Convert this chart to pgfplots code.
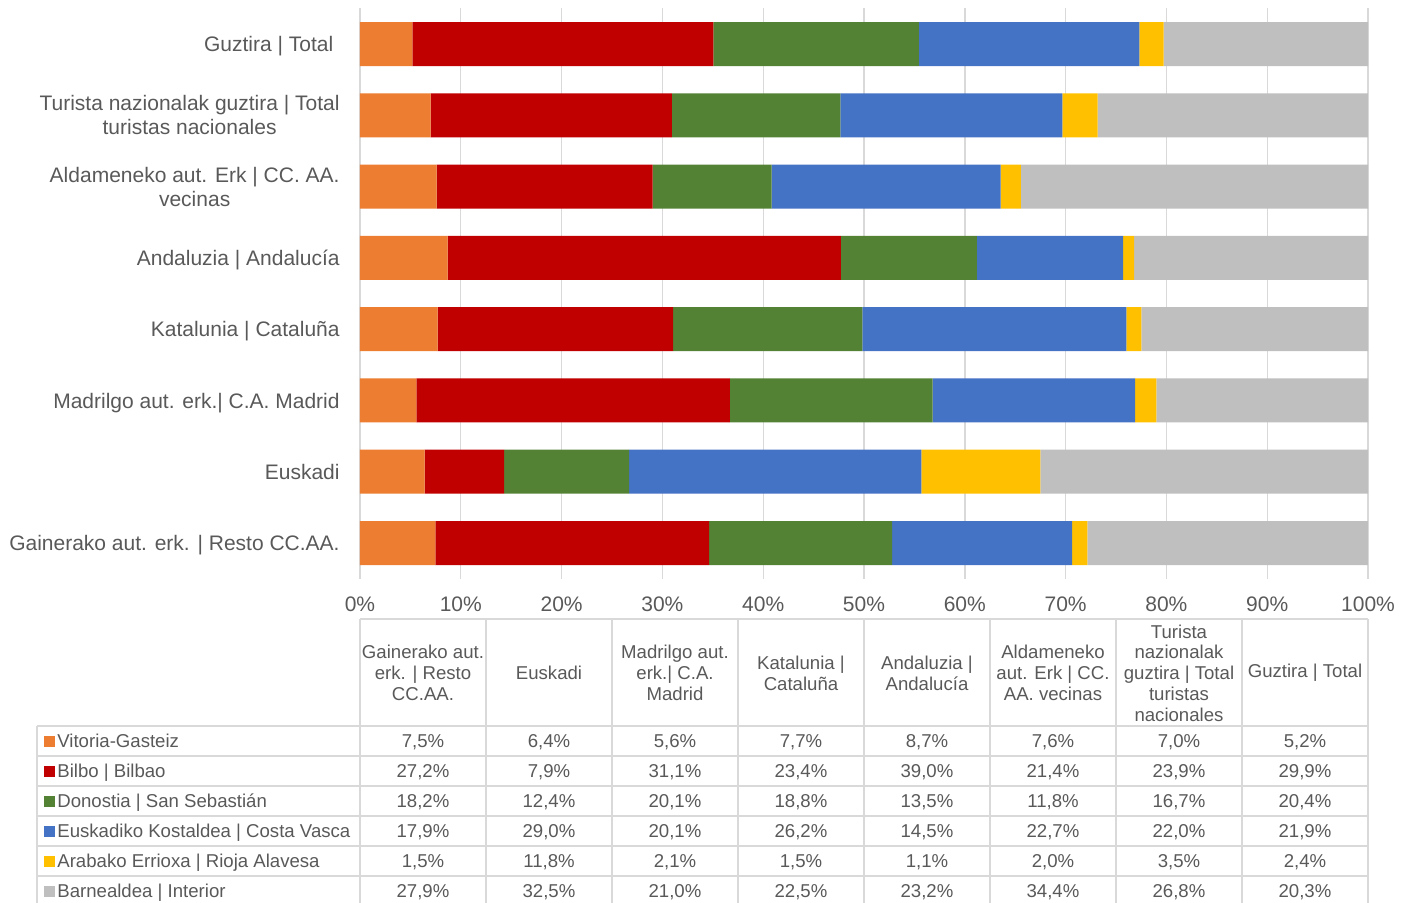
\documentclass[border=0pt]{standalone}
\usepackage{fontspec}
\setmainfont{Liberation Sans}
\usepackage{pgfplots}
\usepackage{pgfplotstable}
\pgfplotsset{compat=1.18}

\definecolor{cvit}{HTML}{ED7D31}
\definecolor{cbil}{HTML}{C00000}
\definecolor{cdon}{HTML}{548235}
\definecolor{ccos}{HTML}{4472C4}
\definecolor{crio}{HTML}{FFC000}
\definecolor{cint}{HTML}{BFBFBF}
\definecolor{txt}{HTML}{595959}
\definecolor{grd}{HTML}{D9D9D9}

\newcommand{\lblfont}{\fontsize{10.5}{12}\selectfont}
\newcommand{\tabfont}{\fontsize{9.3}{10.35}\selectfont}

% idx: 0 = Gainerako (bottom bar, first table column) ... 7 = Guztira
\pgfplotstableread{
idx vit  bil  don  cos  rio  int
0   7.5  27.2 18.2 17.9 1.5  27.9
1   6.4  7.9  12.4 29.0 11.8 32.5
2   5.6  31.1 20.1 20.1 2.1  21.0
3   7.7  23.4 18.8 26.2 1.5  22.5
4   8.7  39.0 13.5 14.5 1.1  23.2
5   7.6  21.4 11.8 22.7 2.0  34.4
6   7.0  23.9 16.7 22.0 3.5  26.8
7   5.2  29.9 20.4 21.9 2.4  20.3
}\data

% 100% stacked: each row is scaled to its own total
\newcommand{\tot}{(\thisrow{vit}+\thisrow{bil}+\thisrow{don}+\thisrow{cos}+\thisrow{rio}+\thisrow{int})}

\pgfplotsset{
  tabvals/.style={draw=none, mark=none, point meta=explicit,
    nodes near coords={\pgfmathprintnumber[fixed,fixed zerofill,precision=1,use comma,assume math mode=true]{\pgfplotspointmeta}\%},
    every node near coord/.append style={anchor=center, font=\tabfont, text=txt,
      inner sep=0pt, text height=6.66pt, text depth=0pt}},
  legsq/.style={only marks, mark=square*, mark size=2.5pt, color=#1},
}
\tikzset{
  hdr/.style={align=center, font=\tabfont, text=txt, inner sep=0pt},
  leg/.style={anchor=west, font=\tabfont, text=txt, inner sep=0pt, text height=6.66pt, text depth=0pt},
  tline/.style={draw=grd, line width=0.7pt},
}

\begin{document}
\begin{tikzpicture}
\useasboundingbox (0,0) rectangle (704.5pt,-451pt);

% stacked bars
\begin{axis}[
  at={(180pt,-289.32pt)}, anchor=south west,
  width=504pt, height=285.15pt, scale only axis,
  xbar stacked, bar width=22pt,
  xmin=0, xmax=100, ymin=-0.5, ymax=7.5,
  xtick={0,10,...,100},
  xticklabel={\pgfmathprintnumber[assume math mode=true]{\tick}\%},
  ytick={0,...,7},
  yticklabels={Gainerako aut. erk. | Resto CC.AA., Euskadi, Madrilgo aut. erk.| C.A. Madrid,
    Katalunia | Cataluña, Andaluzia | Andalucía, {Aldameneko aut. Erk | CC. AA.\\vecinas},
    {Turista nazionalak guztira | Total\\turistas nacionales}, Guztira | Total\hspace*{0.3em}},
  xmajorgrids, grid style={draw=grd, line width=0.7pt},
  axis line style={draw=none},
  major tick length=0pt,
  xticklabel style={font=\lblfont, text=txt, anchor=center, yshift=-13pt},
  yticklabel style={font=\lblfont, text=txt, align=center, anchor=east, inner sep=0pt,
    text depth=0pt, xshift=-10pt},
  clip=false,
]
\addplot[fill=cvit, draw=none] table[x expr=100*\thisrow{vit}/\tot, y=idx] {\data};
\addplot[fill=cbil, draw=none] table[x expr=100*\thisrow{bil}/\tot, y=idx] {\data};
\addplot[fill=cdon, draw=none] table[x expr=100*\thisrow{don}/\tot, y=idx] {\data};
\addplot[fill=ccos, draw=none] table[x expr=100*\thisrow{cos}/\tot, y=idx] {\data};
\addplot[fill=crio, draw=none] table[x expr=100*\thisrow{rio}/\tot, y=idx] {\data};
\addplot[fill=cint, draw=none] table[x expr=100*\thisrow{int}/\tot, y=idx] {\data};
\end{axis}

% data table
\begin{axis}[
  at={(180pt,-363pt)}, anchor=north west,
  width=504pt, height=90pt, scale only axis,
  xmin=-0.5, xmax=7.5, ymin=-0.5, ymax=5.5, y dir=reverse,
  hide axis, clip=false,
]
% grid of the table
\draw[tline] (axis cs:-0.5,-4.067) -- (axis cs:7.5,-4.067);
\pgfplotsinvokeforeach{-0.5,0.5,1.5,2.5,3.5,4.5}{
  \draw[tline] (axis cs:-3.0635,#1) -- (axis cs:7.5,#1);
}
\pgfplotsinvokeforeach{-0.5,0.5,1.5,2.5,3.5,4.5,5.5,6.5,7.5}{
  \draw[tline] (axis cs:#1,-4.067) -- (axis cs:#1,5.6);
}
\draw[tline] (axis cs:-3.0635,-0.5) -- (axis cs:-3.0635,5.6);

% column headers
\node[hdr] at (axis cs:0,-2.267) {Gainerako aut.\\erk. | Resto\\CC.AA.};
\node[hdr] at (axis cs:1,-2.267) {Euskadi};
\node[hdr] at (axis cs:2,-2.267) {Madrilgo aut.\\erk.| C.A.\\Madrid};
\node[hdr] at (axis cs:3,-2.267) {Katalunia |\\Cataluña};
\node[hdr] at (axis cs:4,-2.267) {Andaluzia |\\Andalucía};
\node[hdr] at (axis cs:5,-2.267) {Aldameneko\\aut. Erk | CC.\\AA. vecinas};
\node[hdr] at (axis cs:6,-2.267) {Turista\\nazionalak\\guztira | Total\\turistas\\nacionales};
\node[hdr] at (axis cs:7,-2.267) {Guztira | Total};

% legend keys
\addplot[legsq=cvit] coordinates {(-2.968,0)};
\addplot[legsq=cbil] coordinates {(-2.968,1)};
\addplot[legsq=cdon] coordinates {(-2.968,2)};
\addplot[legsq=ccos] coordinates {(-2.968,3)};
\addplot[legsq=crio] coordinates {(-2.968,4)};
\addplot[legsq=cint] coordinates {(-2.968,5)};
\node[leg] at (axis cs:-2.905,0) {Vitoria-Gasteiz};
\node[leg] at (axis cs:-2.905,1) {Bilbo | Bilbao};
\node[leg] at (axis cs:-2.905,2) {Donostia | San Sebastián};
\node[leg] at (axis cs:-2.905,3) {Euskadiko Kostaldea | Costa Vasca};
\node[leg] at (axis cs:-2.905,4) {Arabako Errioxa | Rioja Alavesa};
\node[leg] at (axis cs:-2.905,5) {Barnealdea | Interior};

% values
\addplot[tabvals] table[x=idx, y expr=0, meta=vit] {\data};
\addplot[tabvals] table[x=idx, y expr=1, meta=bil] {\data};
\addplot[tabvals] table[x=idx, y expr=2, meta=don] {\data};
\addplot[tabvals] table[x=idx, y expr=3, meta=cos] {\data};
\addplot[tabvals] table[x=idx, y expr=4, meta=rio] {\data};
\addplot[tabvals] table[x=idx, y expr=5, meta=int] {\data};
\end{axis}
\end{tikzpicture}
\end{document}
